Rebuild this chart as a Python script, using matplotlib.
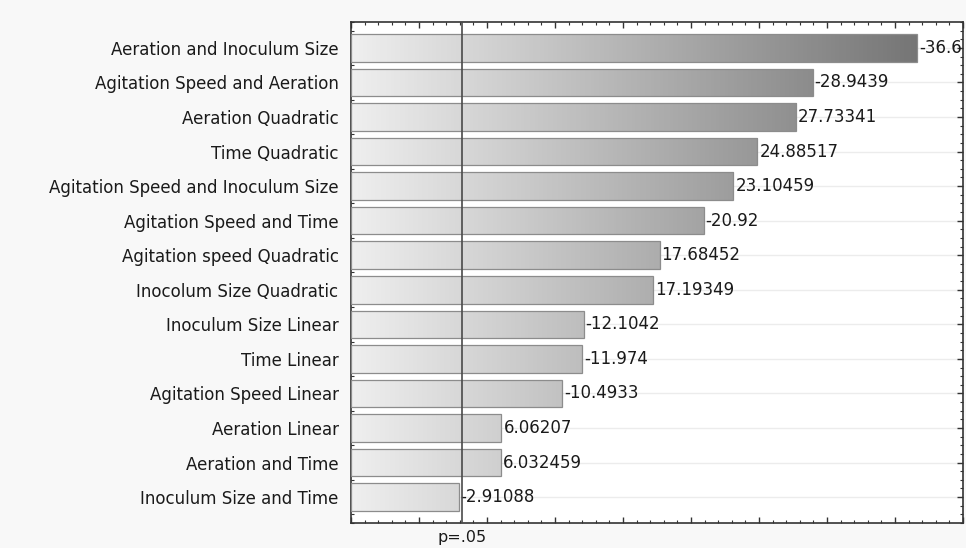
"""Pareto chart of standardized effects for the fermentation model."""

import matplotlib

matplotlib.use("Agg")
import matplotlib.pyplot as plt
import numpy as np
from matplotlib.colors import LinearSegmentedColormap
from matplotlib.ticker import AutoMinorLocator, MultipleLocator

terms = [
    "Aeration and Inoculum Size",
    "Agitation Speed and Aeration",
    "Aeration Quadratic",
    "Time Quadratic",
    "Agitation Speed and Inoculum Size",
    "Agitation Speed and Time",
    "Agitation speed Quadratic",
    "Inocolum Size Quadratic",
    "Inoculum Size Linear",
    "Time Linear",
    "Agitation Speed Linear",
    "Aeration Linear",
    "Aeration and Time",
    "Inoculum Size and Time",
]
effects = [-36.6, -28.9439, 27.73341, 24.88517, 23.10459, -20.92, 17.68452,
           17.19349, -12.1042, -11.974, -10.4933, 6.06207, 6.032459, -2.91088]
effect_labels = ["-36.6", "-28.9439", "27.73341", "24.88517", "23.10459", "-20.92",
                 "17.68452", "17.19349", "-12.1042", "-11.974", "-10.4933",
                 "6.06207", "6.032459", "-2.91088"]
p_crit = 3.18

plt.rcParams["font.family"] = ["DejaVu Sans"]

x_lo, x_hi = -5, 40
shade = LinearSegmentedColormap.from_list("shade", ["#efefef", "#6c6c6c"])

fig = plt.figure(figsize=(9.66, 5.48), dpi=100, facecolor="#f8f8f8")
ax = fig.add_axes([0.3634, 0.0456, 0.6335, 0.9143])
ax.set_facecolor("white")

rows = np.arange(len(terms))
h = 0.8
for y in rows:
    ax.axhline(y, color="#ececec", lw=1.0, zorder=0)

for y, v, lab in zip(rows, effects, effect_labels):
    end = abs(v)
    bars = ax.barh(y, end - x_lo, left=x_lo, height=h, facecolor="none",
                   edgecolor="#8c8c8c", lw=0.9, zorder=3)
    grad = np.linspace(x_lo, end, 256).reshape(1, -1)
    im = ax.imshow(grad, cmap=shade, vmin=x_lo, vmax=x_hi, aspect="auto",
                   extent=[x_lo, end, y + h / 2, y - h / 2], zorder=2,
                   interpolation="bilinear")
    im.set_clip_path(bars.patches[0])
    ax.text(end + 0.15, y, lab, va="center", ha="left", fontsize=12,
            color="#1a1a1a", zorder=4, clip_on=True)

# critical t value marker and its caption under the axis
ax.axvline(p_crit, color="#4a4a4a", lw=1.2, zorder=5)
ax.text(p_crit, -0.038, "p=.05", transform=ax.get_xaxis_transform(),
        ha="center", va="baseline", fontsize=11.5, color="#1a1a1a")

ax.set_xlim(x_lo, x_hi)
ax.set_ylim(len(terms) - 0.25, -0.75)
ax.set_yticks(rows)
ax.set_yticklabels(terms, fontsize=12, color="#1a1a1a")
ax.xaxis.set_major_locator(MultipleLocator(5))
ax.xaxis.set_minor_locator(MultipleLocator(1))
ax.yaxis.set_minor_locator(AutoMinorLocator(4))
ax.tick_params(axis="x", which="both", direction="in", top=True, bottom=True,
               labelbottom=False, color="#333333")
ax.tick_params(axis="y", which="both", direction="in", left=True, right=True,
               color="#333333", pad=9)
ax.tick_params(which="major", length=4, width=1)
ax.tick_params(which="minor", length=2.5, width=0.8)
for side in ax.spines.values():
    side.set_color("#333333")
    side.set_linewidth(1.2)

fig.savefig("out.png", dpi=100, facecolor=fig.get_facecolor())
